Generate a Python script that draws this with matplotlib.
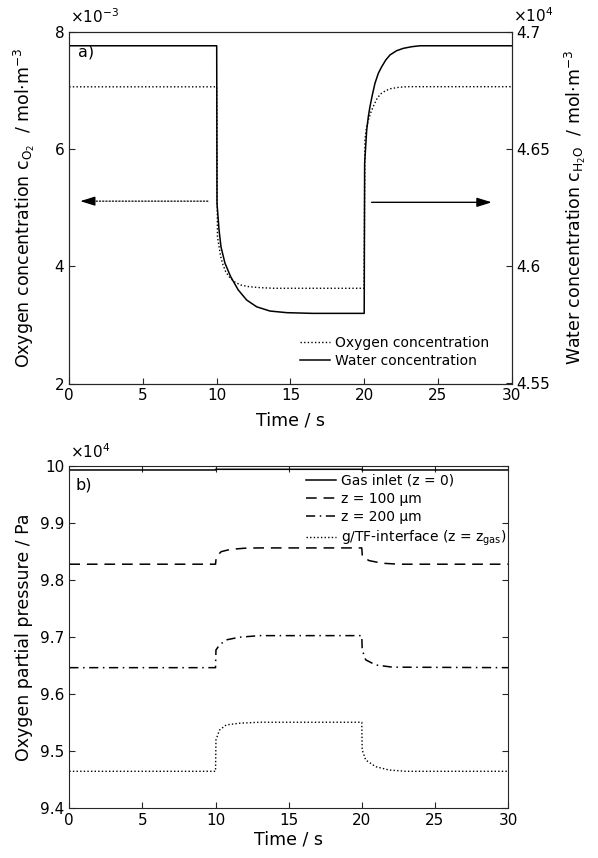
import matplotlib
matplotlib.use("Agg")
import matplotlib.pyplot as plt
from matplotlib.ticker import FuncFormatter

plt.rcParams['font.family'] = ['DejaVu Sans']

# ---------------- panel a) data ----------------
t_o2 = [0, 10.0, 10.05, 10.16, 10.27, 10.43, 10.61, 10.84, 11.18, 11.63, 12.19, 12.98, 13.89, 19.99,
        20.05, 20.16, 20.32, 20.47, 20.66, 20.88, 21.11, 21.45, 21.79, 22.35, 22.92, 30]
c_o2 = [7.06e-3, 7.06e-3, 4.504e-3, 4.333e-3, 4.163e-3, 4.021e-3, 3.907e-3, 3.822e-3, 3.736e-3,
        3.680e-3, 3.651e-3, 3.634e-3, 3.624e-3, 3.624e-3,
        6.153e-3, 6.380e-3, 6.523e-3, 6.636e-3, 6.750e-3, 6.864e-3, 6.938e-3, 6.994e-3, 7.028e-3,
        7.052e-3, 7.062e-3, 7.062e-3]

t_h2o = [0, 10.0, 10.02, 10.16, 10.29, 10.56, 10.95, 11.46, 12.03, 12.71, 13.61, 14.75, 16.5, 20.0,
         20.03, 20.10, 20.17, 20.28, 20.39, 20.55, 20.73, 20.96, 21.19, 21.46, 21.75, 22.2, 22.65,
         23.22, 23.78, 30]
c_h2o = [46940, 46940, 46268, 46154, 46083, 46013, 45955, 45899, 45856, 45827, 45809, 45802, 45799, 45799,
         46439, 46510, 46581, 46638, 46680, 46730, 46780, 46823, 46851, 46879, 46901, 46919, 46929,
         46936, 46940, 46940]

# ---------------- panel b) data ----------------
t_inlet = [0, 10.0, 10.01, 20.0, 20.01, 30]
p_inlet = [99925, 99925, 99937, 99937, 99925, 99925]

t_100 = [0, 10.0, 10.05, 10.39, 11.0, 12.0, 13.0, 20.0, 20.04, 20.5, 21.4, 22.54, 30]
p_100 = [98275, 98275, 98408, 98495, 98534, 98555, 98560, 98560, 98408, 98338, 98292, 98275, 98275]

t_200 = [0, 10.0, 10.03, 10.27, 10.73, 11.62, 13.0, 20.0, 20.03, 20.27, 20.95, 22.09, 30]
p_200 = [96463, 96463, 96773, 96861, 96949, 96996, 97024, 97024, 96773, 96600, 96510, 96472, 96463]

t_int = [0, 10.0, 10.03, 10.27, 10.73, 11.62, 13.0, 20.0, 20.03, 20.27, 20.95, 21.86, 23.0, 30]
p_int = [94648, 94648, 95197, 95370, 95460, 95490, 95507, 95507, 95021, 94846, 94729, 94671, 94648, 94648]

x_ticks = [0, 5, 10, 15, 20, 25, 30]

W, H = 598.0, 858.0
dark = '#262626'
fmt = FuncFormatter(lambda v, p: '%g' % round(v, 6))
DOT = (0, (1, 1.6))

fig = plt.figure(figsize=(5.98, 8.58), dpi=100)

# ---------------- panel a ----------------
ax1 = fig.add_axes([69.2/W, 1-383.5/H, 442.5/W, 351.8/H])
ax2 = ax1.twinx()
ax1.plot(t_o2, [v*1e3 for v in c_o2], color='k', lw=1.0, ls=DOT,
         label='Oxygen concentration')
ax2.plot(t_h2o, [v/1e4 for v in c_h2o], color='k', lw=1.1, ls='-',
         label='Water concentration')
ax1.set_xlim(0, 30)
ax1.set_ylim(2, 8)
ax2.set_ylim(4.55, 4.7)
ax1.set_xticks(x_ticks)
ax1.set_yticks([2, 4, 6, 8])
ax2.set_yticks([4.55, 4.6, 4.65, 4.7])
ax1.yaxis.set_major_formatter(fmt)
ax2.yaxis.set_major_formatter(fmt)
for ax in (ax1, ax2):
    ax.tick_params(direction='in', length=4, width=0.8, colors=dark, labelsize=11,
                   labelcolor='k')
    for s in ax.spines.values():
        s.set_color(dark)
        s.set_linewidth(0.8)
ax1.set_xlabel('Time / s', fontsize=12.5, labelpad=6)
ax1.set_ylabel(r'Oxygen concentration $\mathregular{c_{O_2}}$  / mol$\mathregular{\cdot}$m$^{\mathregular{-3}}$',
               fontsize=12.5, labelpad=13)
ax2.set_ylabel(r'Water concentration $\mathregular{c_{H_2O}}$  / mol$\mathregular{\cdot}$m$^{\mathregular{-3}}$',
               fontsize=12.5, labelpad=9)
fig.text(70/W, 1-23/H, r'$\mathregular{\times10^{-3}}$', fontsize=11, ha='left', va='baseline')
fig.text(513/W, 1-22/H, r'$\mathregular{\times10^{4}}$', fontsize=11, ha='left', va='baseline')
ax1.text(0.02, 0.965, 'a)', transform=ax1.transAxes, fontsize=11.5, ha='left', va='top')

# arrows
ax1.annotate('', xy=(1.0, 5.11), xytext=(9.4, 5.11),
             arrowprops=dict(arrowstyle='-', color='k', lw=0.9, ls=DOT,
                             shrinkA=0, shrinkB=0))
ax1.annotate('', xy=(0.75, 5.11), xytext=(1.6, 5.11),
             arrowprops=dict(arrowstyle='-|>,head_length=0.9,head_width=0.28', color='k', lw=0.9,
                             shrinkA=0, shrinkB=0))
ax1.annotate('', xy=(28.65, 5.09), xytext=(20.5, 5.09),
             arrowprops=dict(arrowstyle='-|>,head_length=0.9,head_width=0.28', color='k', lw=1.0,
                             shrinkA=0, shrinkB=0))

h1, l1 = ax1.get_legend_handles_labels()
h2, l2 = ax2.get_legend_handles_labels()
ax1.legend(h1 + h2, l1 + l2, loc='upper left', frameon=False, fontsize=10,
           handlelength=2.15, handletextpad=0.35, labelspacing=0.3,
           borderpad=0, borderaxespad=0,
           bbox_to_anchor=(300/W, 1-336/H), bbox_transform=fig.transFigure)

# ---------------- panel b ----------------
ax3 = fig.add_axes([69.3/W, 1-808.3/H, 438.7/W, 342.6/H])
ax3.plot(t_inlet, [v/1e4 for v in p_inlet], color='k', lw=1.1, ls='-',
         label='Gas inlet (z = 0)')
ax3.plot(t_100, [v/1e4 for v in p_100], color='k', lw=1.1, ls=(0, (7, 4.5)),
         label='z = 100 µm')
ax3.plot(t_200, [v/1e4 for v in p_200], color='k', lw=1.1, ls=(0, (6, 3, 1, 3)),
         label='z = 200 µm')
ax3.plot(t_int, [v/1e4 for v in p_int], color='k', lw=1.0, ls=DOT,
         label=r'g/TF-interface (z = z$_{\mathregular{gas}}$)')
ax3.set_xlim(0, 30)
ax3.set_ylim(9.4, 10)
ax3.set_xticks(x_ticks)
ax3.set_yticks([9.4, 9.5, 9.6, 9.7, 9.8, 9.9, 10])
ax3.yaxis.set_major_formatter(fmt)
ax3.tick_params(direction='in', length=4, width=0.8, colors=dark, labelsize=11,
                labelcolor='k', top=True, right=True)
for s in ax3.spines.values():
    s.set_color(dark)
    s.set_linewidth(0.8)
ax3.set_xlabel('Time / s', fontsize=12.5, labelpad=2)
ax3.set_ylabel('Oxygen partial pressure / Pa', fontsize=12.5, labelpad=5)
fig.text(70/W, 1-458/H, r'$\mathregular{\times10^{4}}$', fontsize=11, ha='left', va='baseline')
ax3.text(0.015, 0.965, 'b)', transform=ax3.transAxes, fontsize=11.5, ha='left', va='top')
ax3.legend(loc='upper left', frameon=False, fontsize=10,
           handlelength=2.15, handletextpad=0.35, labelspacing=0.3,
           borderpad=0, borderaxespad=0,
           bbox_to_anchor=(306/W, 1-474/H), bbox_transform=fig.transFigure)

fig.savefig('out.png', dpi=100)
